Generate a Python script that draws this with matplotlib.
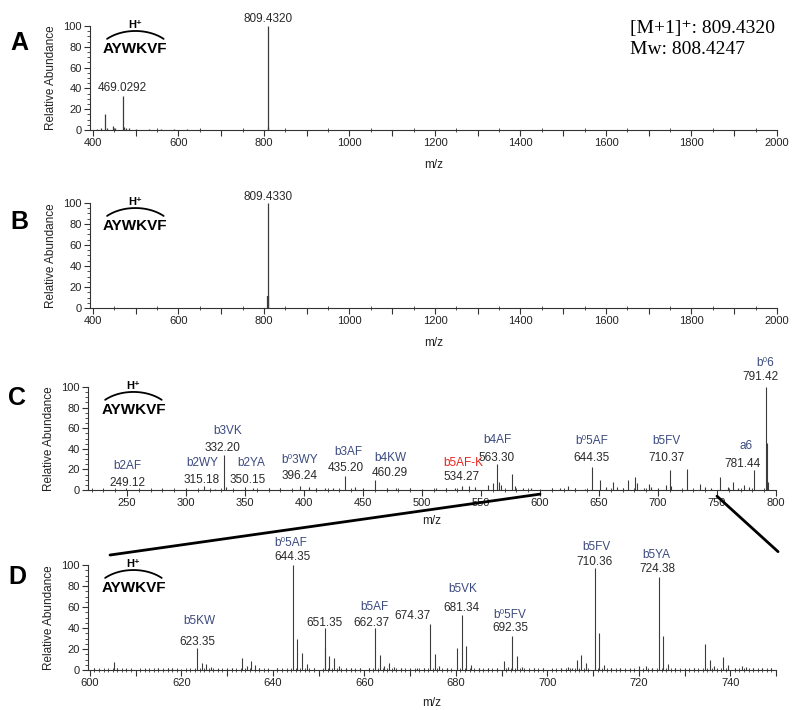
import numpy as np
import matplotlib
matplotlib.use('Agg')
import matplotlib.pyplot as plt
from matplotlib.patches import ConnectionPatch
from matplotlib.ticker import MultipleLocator, FuncFormatter

plt.rcParams['font.family'] = ['Liberation Sans', 'DejaVu Sans']

# ---------------- data ----------------
a_mz = [410, 418, 428.2, 432, 446, 452, 469.03, 472, 478, 485, 500, 530, 560, 590, 620, 650, 809.43, 810.43]
a_int = [1, 2, 15, 2, 4, 2, 33, 3, 2, 1.5, 1, 1, 1, 1, 1, 1, 100, 3]
a_lab_mz = [809.43, 469.03]
a_lab_txt = ['809.4320', '469.0292']

b_mz = [809.43, 810.44]
b_int = [100, 11]
b_lab_mz = [809.43]
b_lab_txt = ['809.4330']

c_mz = [230, 249.12, 260, 280, 300, 315.18, 325, 332.20, 334.2, 350.15, 357.2, 370, 380, 396.24,
        404.2, 410, 418, 425, 435.20, 443, 450, 460.29, 470, 478, 490, 500, 512, 520, 528, 534.27,
        540, 545, 556, 560, 563.30, 565, 567, 576, 579, 586, 592, 600, 610, 617, 623.5, 630, 638,
        644.35, 651, 656, 662, 665, 670, 674.5, 680.5, 682, 688, 692, 694, 700, 706.5, 710.37,
        711.4, 724.4, 735.6, 740, 745, 752.5, 759, 763.6, 768, 773, 777, 781.44, 791.42, 792.42, 793.4]
c_int = [1, 1.5, 1, 1, 1.5, 4, 1, 34, 3, 3, 2, 1.5, 2, 4,
         3, 2, 2, 1.5, 14, 3, 1.5, 10, 1.5, 2, 2, 1, 2, 1.5, 2, 4,
         4, 3, 5, 7, 25, 8, 5, 16, 4, 2, 2, 1, 1.5, 2, 4, 2, 1,
         22, 10, 3, 8, 3, 2, 10, 13, 7, 2, 6, 3, 1.5, 5, 19,
         4, 20, 6, 3, 2, 13, 3, 8, 2, 5, 3, 19, 100, 46, 8]
c_ann_name = ['b2AF', 'b2WY', 'b3VK', 'b2YA', 'b\u20703WY', 'b3AF', 'b4KW', 'b5AF-K', 'b4AF',
              'b\u20705AF', 'b5FV', 'a6', 'b\u20706']
c_ann_num = ['249.12', '315.18', '332.20', '350.15', '396.24', '435.20', '460.29', '534.27', '563.30',
             '644.35', '710.37', '781.44', '791.42']

d_mz = [601, 605.3, 606, 608, 612, 615, 617, 618, 620, 623.35, 624.5, 625.5, 626.5, 628, 630, 631,
        633.3, 634.3, 635.3, 636, 637, 639, 641, 644.35, 645.36, 646.36, 647.4, 649, 651.35, 651.5,
        652.36, 653.36, 654.4, 656, 657, 659, 661, 662.37, 663.37, 664.4, 665.5, 666.5, 668, 670,
        671.5, 673, 674.37, 675.37, 676.4, 678, 680.33, 681.34, 682.34, 683.35, 685, 687, 689,
        690.5, 691.5, 692.35, 693.35, 694.4, 697, 699, 701, 703, 704.5, 705.5, 706.4, 707.4, 708.4,
        710.36, 711.37, 712.4, 714, 716, 718, 720, 721.5, 723, 724.38, 725.38, 726.4, 728, 730, 732,
        734.4, 735.5, 736.5, 738.4, 739.4, 741, 742.5, 743.5, 745, 747, 749]
d_int = [2, 8, 2, 1, 1, 1.5, 2, 2, 1, 21, 7, 6, 3, 1, 2, 1.5,
         11, 4, 9, 5, 2, 1, 1.5, 100, 30, 16, 6, 2, 40, 21,
         13, 11, 4, 2, 2, 1.5, 2, 40, 14, 4, 7, 3, 2, 1.5,
         2, 2, 44, 15, 4, 2, 21, 52, 23, 5, 2, 1.5, 2,
         9, 3, 32, 13, 3, 2, 1.5, 1, 2, 3, 2, 10, 14, 7,
         97, 35, 5, 2, 1.5, 1, 4, 4, 2, 89, 32, 6, 2, 1.5, 2,
         25, 10, 4, 12, 5, 2, 4, 3, 2, 2, 1.5]
d_ann_name = ['b\u20705AF', 'b5KW', '', 'b5AF', '', 'b5VK', 'b\u20705FV', 'b5FV', 'b5YA']
d_ann_num = ['644.35', '623.35', '651.35', '662.37', '674.37', '681.34', '692.35', '710.36', '724.38']

# ---------------- layout (label positions, data units) ----------------
c_name_pos = [(250, 23), (313.5, 26), (335.6, 57), (355, 26), (396, 29), (438, 37), (473.5, 31),
              (534.7, 26.5), (563.8, 48.5), (643.8, 47.6), (707, 47.6), (775, 43), (790.7, 123)]
c_num_pos = [(250, 7), (313.5, 10), (331, 41), (352, 10), (396, 14), (435, 21), (473, 16.5),
             (533.6, 12.6), (563, 31), (644, 31), (707, 31), (772, 25), (786.6, 110)]
d_name_pos = [(644, 121), (623.9, 47), None, (662.3, 60), None, (681.6, 77), (691.8, 52),
              (710.8, 117), (723.9, 110)]
d_num_pos = [(644.2, 108), (623.5, 27), (651.2, 45), (661.6, 45), (670.6, 51), (681.3, 59),
             (692, 40), (710.3, 103), (724, 96)]

NAME_COLOR = '#3b4a7e'
NUM_COLOR = '#2a2a2a'
PEAK_COLOR = '#3c3c3c'

fig = plt.figure(figsize=(8, 7.1), dpi=100)
W, H = 800, 710


def px_axes(left, right, top, bottom):
    return fig.add_axes([left / W, 1 - bottom / H, (right - left) / W, (bottom - top) / H])


axA = px_axes(90, 777, 26, 130)
axB = px_axes(90, 777, 203, 308)
axC = px_axes(88, 776, 387, 490)
axD = px_axes(88, 776, 565, 670)


def style(ax, xlim, major, label_step, minor, xlab_y):
    ax.set_xlim(*xlim)
    ax.set_ylim(0, 100)
    for s in ['top', 'right']:
        ax.spines[s].set_visible(False)
    for s in ['left', 'bottom']:
        ax.spines[s].set_linewidth(0.8)
        ax.spines[s].set_color('#333333')
    ax.yaxis.set_major_locator(MultipleLocator(20))
    ax.yaxis.set_minor_locator(MultipleLocator(5))
    ax.xaxis.set_major_locator(MultipleLocator(major))
    ax.xaxis.set_minor_locator(MultipleLocator(minor))
    ax.xaxis.set_major_formatter(FuncFormatter(
        lambda v, p: ('%d' % round(v)) if abs(v / label_step - round(v / label_step)) < 1e-6 else ''))
    ax.tick_params(which='major', labelsize=8, length=4, width=0.8, pad=2,
                   color='#333333', labelcolor='#222222')
    ax.tick_params(which='minor', length=2, width=0.6, color='#333333')
    ax.tick_params(axis='x', which='minor', direction='inout', length=3)
    ax.set_ylabel('Relative Abundance', fontsize=8.5, color='#222222')
    ax.yaxis.set_label_coords(-0.048, 0.5)
    ax.set_xlabel('m/z', fontsize=8.5, color='#222222')
    ax.xaxis.set_label_coords(0.5, xlab_y)


def peptide(ax):
    # flat arc over the peptide sequence, built in pixel units then mapped to axes fraction
    hpx = ax.bbox.height
    wpx = ax.bbox.width
    cx = 0.066
    top = 0.952
    a, b = 40.0, 27.0
    t = np.radians(np.linspace(45, 135, 60))
    xs = cx + a * np.cos(t) / wpx
    ys = top - b / hpx + b * np.sin(t) / hpx
    ax.plot(xs, ys, transform=ax.transAxes, color='black', lw=1.3, clip_on=False,
            solid_capstyle='round')
    ax.text(cx, 1.01, 'H\u207a', transform=ax.transAxes, ha='center', va='center',
            fontsize=8, fontweight='bold')
    ax.text(cx, 0.78, 'AYWKVF', transform=ax.transAxes, ha='center', va='center',
            fontsize=11, fontweight='bold')


def letter(ax, s, y):
    ax.text(-0.103, y, s, transform=ax.transAxes, ha='center', va='center',
            fontsize=18, fontweight='bold')


SERIF = ['Liberation Serif', 'DejaVu Serif']

# Panel A
style(axA, (393, 2000), 100, 200, 50, -0.28)
axA.vlines(a_mz, 0, a_int, colors=PEAK_COLOR, linewidth=0.9)
for m, t in zip(a_lab_mz, a_lab_txt):
    h = a_int[a_mz.index(m)]
    axA.text(m, h + 7, t, ha='center', va='center', fontsize=8.5, color=NUM_COLOR)
peptide(axA)
letter(axA, 'A', 0.84)
axA.text(630 / W, 1 - 28 / H, '[M+1]\u207a: 809.4320', transform=fig.transFigure,
         ha='left', va='center', fontsize=14, family=SERIF)
axA.text(630 / W, 1 - 50 / H, 'Mw: 808.4247', transform=fig.transFigure,
         ha='left', va='center', fontsize=14, family=SERIF)

# Panel B
style(axB, (393, 2000), 100, 200, 50, -0.28)
axB.vlines(b_mz, 0, b_int, colors=PEAK_COLOR, linewidth=[0.9, 1.6])
for m, t in zip(b_lab_mz, b_lab_txt):
    h = b_int[b_mz.index(m)]
    axB.text(m, h + 6, t, ha='center', va='center', fontsize=8.5, color=NUM_COLOR)
peptide(axB)
letter(axB, 'B', 0.82)

# Panel C
style(axC, (217, 800), 50, 50, 10, -0.245)
axC.vlines(c_mz, 0, c_int, colors=PEAK_COLOR, linewidth=0.8)
for name, num, npos, mpos in zip(c_ann_name, c_ann_num, c_name_pos, c_num_pos):
    col = '#e8231f' if name == 'b5AF-K' else NAME_COLOR
    axC.text(npos[0], npos[1], name, ha='center', va='center', fontsize=8.5, color=col)
    axC.text(mpos[0], mpos[1], num, ha='center', va='center', fontsize=8.5, color=NUM_COLOR)
peptide(axC)
letter(axC, 'C', 0.89)

# Panel D
style(axD, (599.6, 750), 10, 20, 1, -0.26)
axD.vlines(d_mz, 0, d_int, colors=PEAK_COLOR, linewidth=0.8)
for name, num, npos, mpos in zip(d_ann_name, d_ann_num, d_name_pos, d_num_pos):
    if name and npos:
        axD.text(npos[0], npos[1], name, ha='center', va='center', fontsize=8.5, color=NAME_COLOR)
    axD.text(mpos[0], mpos[1], num, ha='center', va='center', fontsize=8.5, color=NUM_COLOR)
peptide(axD)
letter(axD, 'D', 0.886)

# zoom connector lines from C to D
d_lo, d_hi = axD.get_xlim()
for xa, ya, xb, yb in [(d_lo + 0.4, -4, 0.032, 1.095), (d_hi, -6, 1.003, 1.127)]:
    con = ConnectionPatch(xyA=(xa, ya), coordsA=axC.transData, xyB=(xb, yb), coordsB=axD.transAxes,
                          color='black', lw=2.0)
    fig.add_artist(con)

fig.savefig('out.png', dpi=100)
